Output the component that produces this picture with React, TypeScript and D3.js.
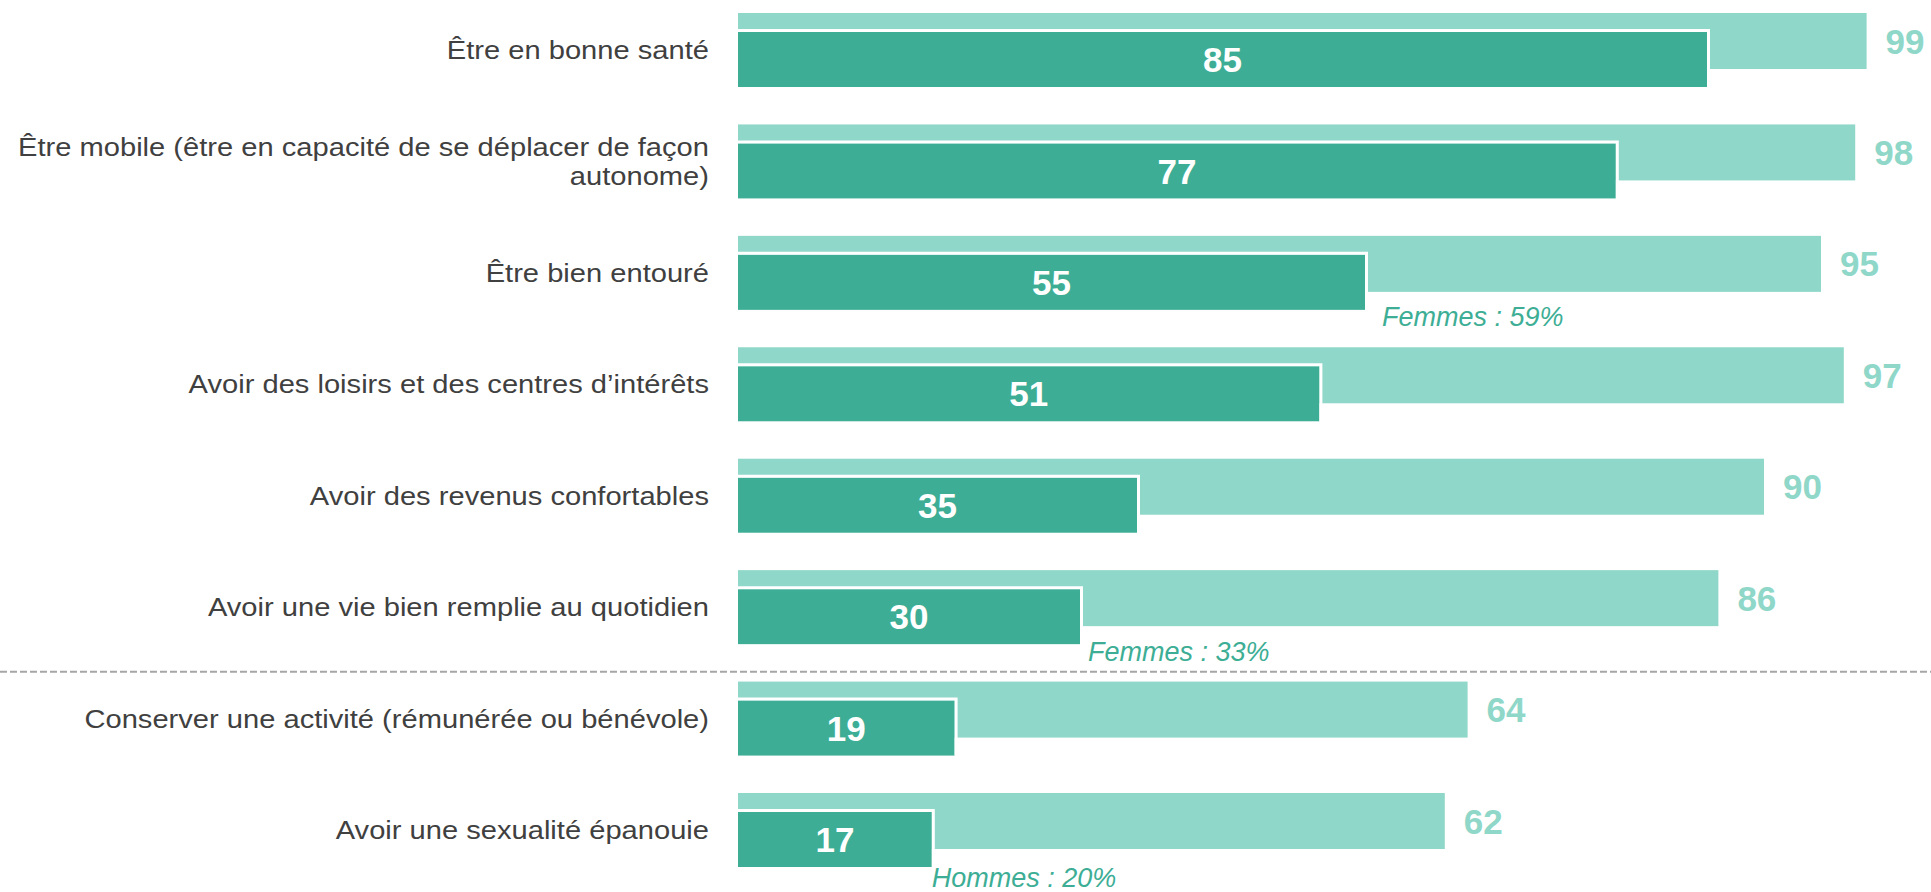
import React from "react";
import * as d3 from "d3";

const categories = [
  "Être en bonne santé",
  "Être mobile (être en capacité de se déplacer de façon\nautonome)",
  "Être bien entouré",
  "Avoir des loisirs et des centres d’intérêts",
  "Avoir des revenus confortables",
  "Avoir une vie bien remplie au quotidien",
  "Conserver une activité (rémunérée ou bénévole)",
  "Avoir une sexualité épanouie",
];
const importantValues = [99, 98, 95, 97, 90, 86, 64, 62];
const essentialValues = [85, 77, 55, 51, 35, 30, 19, 17];
const annotations = [
  { index: 2, text: "Femmes : 59%", dx: 17, dy: 16 },
  { index: 5, text: "Femmes : 33%", dx: 8, dy: 17 },
  { index: 7, text: "Hommes : 20%", dx: 0, dy: 20 },
];
const separatorAfterIndex = 5;

const W = 1931;
const H = 892;
const LIGHT = "#8fd7c8";
const DARK = "#3dae95";
const TEXT = "#404040";

export default function App() {
  const x = d3.scaleLinear().domain([0, 100]).range([738, 738 + 1140]);
  const y = d3
    .scaleBand<string>()
    .domain(categories)
    .range([13, 867])
    .paddingInner(0.336)
    .paddingOuter(0);
  const bw = y.bandwidth();
  const lightH = (bw * 56) / 74;
  const darkOff = (bw * 19) / 74;
  const darkH = (bw * 55) / 74;

  const sepY =
    ((y(categories[separatorAfterIndex]) as number) + bw + (y(categories[separatorAfterIndex + 1]) as number)) / 2 + 9;

  return (
    <svg
      width={W}
      height={H}
      style={{ position: "absolute", left: 0, top: 0, background: "#fff" }}
      fontFamily="'Liberation Sans', Arial, sans-serif"
    >
      <line x1={0} x2={W} y1={sepY} y2={sepY} stroke="#a6a6a6" strokeWidth={2} strokeDasharray="7,3" />
      {categories.map((c, i) => {
        const y0 = y(c) as number;
        const lines = c.split("\n");
        const cy = y0 + bw / 2;
        const lh = 29;
        const dTop = y0 + darkOff;
        const dRight = x(essentialValues[i]);
        return (
          <g key={c}>
            <rect x={x(0)} y={y0} width={x(importantValues[i]) - x(0)} height={lightH} fill={LIGHT} />
            <rect x={x(0)} y={dTop} width={dRight - x(0)} height={darkH} fill={DARK} />
            <path
              d={`M${x(0)},${dTop - 1.5} H${dRight + 1.5} V${dTop + darkH}`}
              fill="none"
              stroke="#fff"
              strokeWidth={3}
            />
            <text
              x={(x(0) + dRight) / 2}
              y={dTop + darkH / 2}
              dy="0.36em"
              textAnchor="middle"
              fill="#fff"
              fontWeight="bold"
              fontSize={35}
            >
              {essentialValues[i]}
            </text>
            <text
              x={x(importantValues[i]) + 19}
              y={y0 + lightH / 2}
              dy="0.36em"
              textAnchor="start"
              fill={LIGHT}
              fontWeight="bold"
              fontSize={35}
            >
              {importantValues[i]}
            </text>
            {lines.map((l, k) => (
              <g key={k} transform={`translate(709, ${cy + (k - (lines.length - 1) / 2) * lh}) scale(1.12, 1)`}>
                <text x={0} y={0} dy="0.35em" textAnchor="end" fill={TEXT} fontSize={26}>
                  {l}
                </text>
              </g>
            ))}
          </g>
        );
      })}
      {annotations.map((a) => {
        const c = categories[a.index];
        const y0 = y(c) as number;
        return (
          <text
            key={a.text}
            x={x(essentialValues[a.index]) + a.dx}
            y={y0 + darkOff + darkH + a.dy}
            fill={DARK}
            fontStyle="italic"
            fontSize={27}
          >
            {a.text}
          </text>
        );
      })}
    </svg>
  );
}
